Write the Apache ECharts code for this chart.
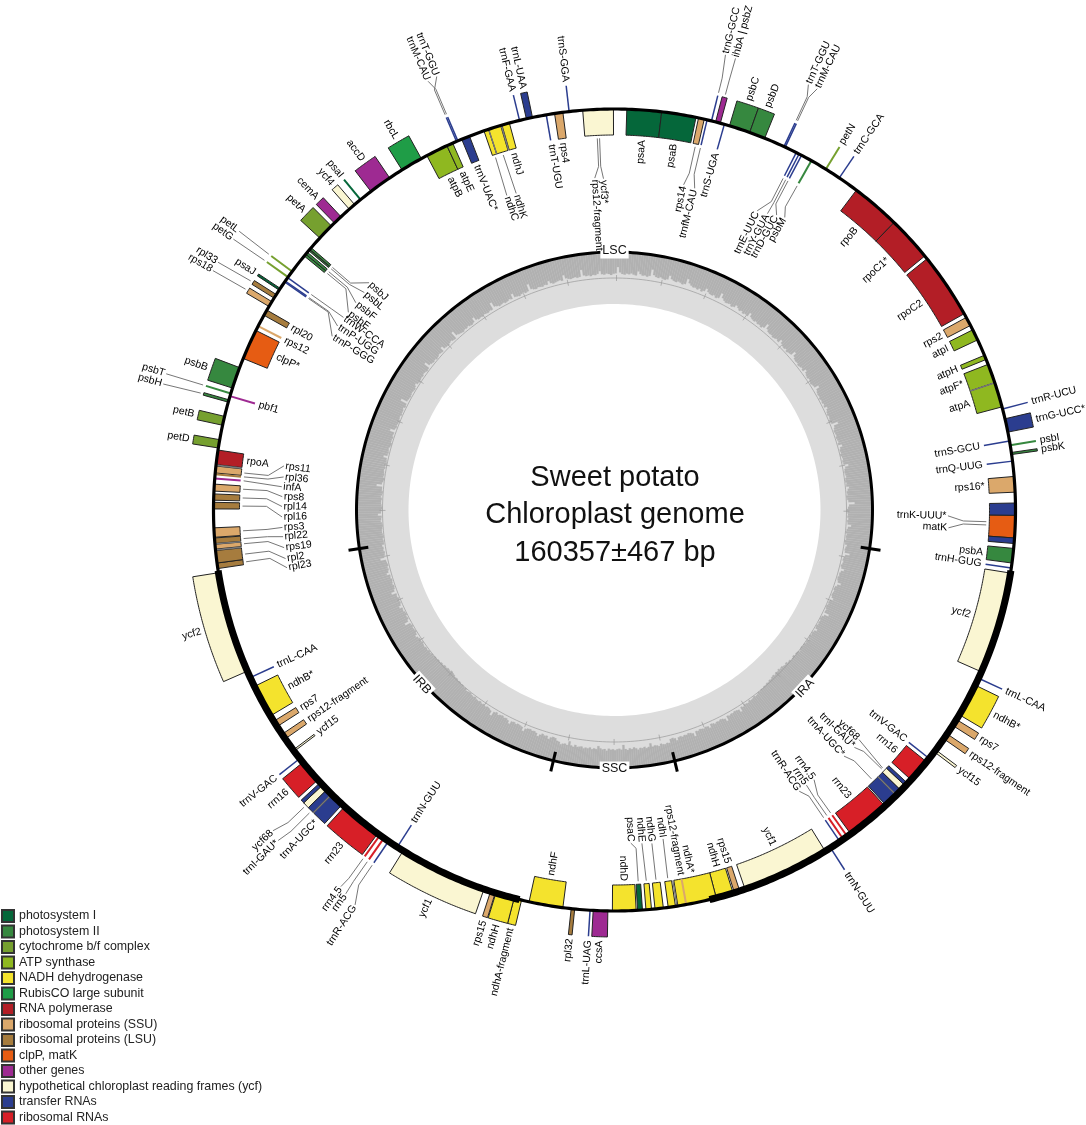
<!DOCTYPE html>
<html><head><meta charset="utf-8">
<style>html,body{margin:0;padding:0;background:#fff}#c{width:1086px;height:1125px}</style>
<script src="https://cdn.jsdelivr.net/npm/echarts@6/dist/echarts.min.js"></script>
</head><body><div id="c"></div>
<script>
// Genes: [name, start angle, end angle, side]  side 1 = outside of the circle, -1 = inside. Angles read clockwise from 12 o'clock.
const photosystemI = [['psaA',1.76,6.76,-1],['psaB',6.76,11.73,-1],['psaC',176,176.7,-1],['psaI',320.7,320.7,1],['psaJ',303.25,303.55,1]];
const photosystemII = [['psbC',16.66,19.7,1],['psbD',19.7,22,1],['psbM',29.4,29.4,-1],['psbI',80.7,80.7,1],['psbK',81.75,82.05,1],['psbA',95.5,97.6,-1],['psbT',286.9,286.9,1],['psbH',285.6,285.95,1],['psbB',287.7,290.8,1],['psbE',309.3,309.65,-1],['psbF',309.65,310,-1],['psbL',310.3,310.5,-1],['psbJ',310.55,310.85,-1]];
const cytochrome = [['petN',31.8,31.8,1],['petB',282.2,283.5,1],['petD',278.9,280.1,1],['petG',305.5,305.5,1],['petL',306.5,306.5,1],['petA',312.7,315.1,1]];
const atpSynthase = [['atpI',63.3,64.9,-1],['atpH',67.3,67.95,-1],['atpF*',68.7,71.5,-1],['atpA',71.5,75.1,-1],['atpB',332.1,335.3,-1],['atpE',335.3,336.2,-1]];
const nadh = [['ndhB*',115.9,120.7,1],['ndhH',162.8,165.3,-1],['ndhA*',165.3,170.9,-1],['ndhI',171.25,172.3,-1],['ndhG',173,174.2,-1],['ndhE',174.7,175.5,-1],['ndhD',176.9,180.3,-1],['ndhF',187.4,192.3,-1],['ndhA-fragment',193.4,194.5,1],['ndhH',194.5,197.2,1],['ndhB*',239.1,243.9,-1],['ndhC',341,341.7,-1],['ndhK',341.7,343.5,-1],['ndhJ',343.7,344.8,-1]];
const rubisco = [['rbcL',328,331.2,1]];
const rnaPolymerase = [['rpoB',37.1,44.2,-1],['rpoC1*',44.2,50.7,-1],['rpoC2',51.2,60.7,-1],['rpoA',276.5,278.6,-1]];
const ribosomalSSU = [['rps14',12.1,12.94,-1],['rps2',61.3,62.6,-1],['rps16*',85.2,87.45,-1],['rps7',121.5,122.5,1],['rps12-fragment',123.95,124.8,1],['rps15',161.8,162.6,-1],['rps12-fragment',169.7,169.7,-1],['rps15',197.3,198,1],['rps12-fragment',235.2,236,-1],['rps7',237.3,238.2,-1],['rps19',264.4,265.1,-1],['rps3',266.1,267.45,-1],['rps8',272.7,273.7,-1],['rps11',275.3,276.3,-1],['rps12',297.3,297.3,-1],['rps18',300.5,301.3,1],['rps4',351.4,352.6,-1],['rps12-fragment',357.35,357.35,-1]];
const ribosomalLSU = [['rpl32',185.7,186.2,1],['rpl23',261.6,262.4,-1],['rpl2',262.4,264.2,-1],['rpl22',265.2,266,-1],['rpl16',270.15,271.1,-1],['rpl14',271.4,272.3,-1],['rpl36',275.1,275.1,-1],['rpl20',299.05,299.9,-1],['rpl33',301.9,302.5,1]];
const clpMat = [['matK',90.76,94,-1],['clpP*',292.2,296.6,-1]];
const otherGenes = [['ihbA | psbZ',14.6,15.3,1],['ccsA',180.95,183.05,1],['infA',274.5,274.5,-1],['pbf1',286.5,286.5,-1],['cemA',315.7,317,1],['accD',322.6,325.9,1]];
const ycfGenes = [['ycf2',99.05,113.8,-1],['ycf15',126.75,127.1,1],['ycf68',133.5,134.4,-1],['ycf1',148.3,161,-1],['ycf1',199,211.8,1],['ycf15',233,233.25,-1],['ycf68',225.8,226.7,1],['ycf2',246.3,261,1],['ycf4',318.6,319.6,1],['ycf3*',355.45,359.85,-1]];
const transferRNA = [['trnfM-CAU',13.35,13.35,-1],['trnG-GCC',14,14,1],['trnS-UGA',15.9,15.9,-1],['trnT-GGU',25,25,1],['trnM-CAU',25.2,25.2,1],['trnE-UUC',26.95,26.95,-1],['trnY-GUA',27.4,27.4,-1],['trnD-GUC',27.8,27.8,-1],['trnC-GCA',34.1,34.1,1],['trnR-UCU',75.4,75.4,1],['trnG-UCC*',76.85,78.8,1],['trnS-GCU',80.1,80.1,-1],['trnQ-UUG',83,83,-1],['trnK-UUU*',89,90.76,-1],['',94,94.8,-1],['trnH-GUG',98.3,98.3,-1],['trnL-CAA',114.8,114.8,1],['trnV-GAC',128.3,128.3,-1],['',133,133.5,-1],['trnI-GAU*',134.4,135.3,-1],['trnA-UGC*',135.4,137.4,-1],['trnR-ACG',145.8,145.8,-1],['trnN-GUU',147.4,147.4,1],['trnL-UAG',183.5,183.5,1],['trnN-GUU',212.8,212.8,-1],['trnR-ACG',214.3,214.3,1],['trnA-UGC*',222.75,224.8,1],['trnI-GAU*',224.9,225.8,1],['',226.7,227.2,1],['trnV-GAC',231.7,231.7,1],['trnL-CAA',245.3,245.3,-1],['trnP-GGG',304.65,304.65,-1],['trnP-UGG',304.8,304.8,-1],['trnW-CCA',305.4,305.4,-1],['trnT-GGU',336.8,336.8,1],['trnM-CAU',337,337,1],['trnV-UAC*',337.6,338.8,-1],['trnF-GAA',346.3,346.3,1],['trnL-UAA',347.3,348.2,1],['trnT-UGU',350.2,350.2,-1],['trnS-GGA',353.5,353.5,1]];
const ribosomalRNA = [['rrn16',128.9,132.3,-1],['rrn23',137.6,143.9,-1],['rrn4.5',144.5,144.5,-1],['rrn5',145.2,145.2,-1],['rrn5',215.1,215.1,1],['rrn4.5',215.8,215.8,1],['rrn23',216.2,222.3,1],['rrn16',227.7,231,1]];

const groupNames = ['photosystem I','photosystem II','cytochrome b/f complex','ATP synthase','NADH dehydrogenase','RubisCO large subunit','RNA polymerase','ribosomal proteins (SSU)','ribosomal proteins (LSU)','clpP, matK','other genes','hypothetical chloroplast reading frames (ycf)','transfer RNAs','ribosomal RNAs'];
const groupGenes = [photosystemI,photosystemII,cytochrome,atpSynthase,nadh,rubisco,rnaPolymerase,ribosomalSSU,ribosomalLSU,clpMat,otherGenes,ycfGenes,transferRNA,ribosomalRNA];
const groupColors = ['#05673a','#36883f','#76a02f','#8fb820','#f4e32d','#1f9d47','#b31e26','#dba86b','#a67c3e','#e65c13','#9e2a92','#faf6d2','#2b3d8f','#d71f27'];

// GC content (%) along the inner ring, region by region, in half-degree bins
const gcLSC = [
48,48,47,49,48,47,47,48,49,48,46,47,48,41,47,48,49,48,47,47,48,46,48,49,47,47,36,46,48,49,47,48,47,46,48,47,49,48,47,40,
47,48,47,46,48,49,47,47,48,46,47,38,46,48,47,48,49,47,46,48,47,47,45,48,47,34,46,47,48,47,46,47,48,46,43,47,48,47,46,47,
45,46,48,47,35,44,46,47,46,48,47,45,46,47,39,45,46,47,45,44,46,47,33,43,45,46,47,45,46,44,46,47,45,37,44,46,45,46,44,45,
46,44,45,32,42,44,46,45,44,46,45,43,45,36,44,45,46,44,43,45,44,31,42,44,45,43,44,45,43,44,38,43,45,44,43,42,44,34,41,43,
44,43,42,44,43,30,41,43,42,44,42,43,41,36,42,43,41,42,44,42,41,29,39,42,43,41,42,40,42,43,35,40,42,41,43,41,28,38,41,42,
40,42,43,41,33,39,41,42,40,41,43,41,30,37,40,42,41,43,40,44,41,35,40,42,43,41,44,42,31,39,42,44,43,42,45,43,38,41,44,42,
45,43,44,36,42,44,45,43,45,44,46,43,33,41,44,45,44,46,45,43,45,38,43,45,46,44,47,45,44,35,42,45,46,45,47,46,44,46,40,44,
46,47,45,46,48,46,45,37,44,46,47,46,48,46,47,45,47,42,45,47,48,46,47,49,47,35,44,46,48,47,46,48,47,46,48,41,46,48,47,49,
47,46,48,47,38,45,47,48,47,46,48,49,47,48,43,46,48,47,49,48,46,34,45,47,49,48,47,48,46,48,47,40,46,48,49,47,48,47,49,48];
const gcIRA = [
44,46,47,46,36,44,46,47,45,46,48,46,40,45,47,46,48,47,45,38,44,47,48,46,47,48,46,42,47,48,47,49,48,46,47,37,45,48,49,47,
48,47,49,48,43,47,49,48,50,49,47,49,48,50,49,51,50,48,51,52,50,53,51,50,53,52,55,53,54,56,55,57,55,56,54,56,55,53,54,52,
53,51,52,50,51,49,50,48,47,49,47,46,48,45,46,47,44,46,38,44,45,46,44,45,43,45,36,42,44,45,43,44,42,44,45,39,43,44,42,43,
44,42,43,34,41,43,44,42,43,41,43,42,37,42,44,43];
const gcSSC = [36,37,35,36,38,34,36,37,35,42,36,34,37,35,36,33,36,38,35,37,34,36,44,35,37,36,34,36,35,37,33,36,35,37,41,35,36,34,37,35,36,34,37,36,35,38,34,36,43,35,37,36,34,38];
const gcIRB = [
39,43,44,42,38,43,42,44,41,37,42,44,43,45,44,42,36,43,44,45,43,45,44,38,43,45,44,46,45,43,46,44,35,43,45,46,44,46,45,47,
45,46,48,46,47,49,48,47,50,49,51,50,52,51,53,52,54,55,56,54,55,53,54,52,53,51,52,50,51,49,50,48,49,47,48,46,47,49,47,48,
46,43,47,49,48,47,49,47,37,45,48,47,49,48,46,47,42,46,48,47,48,46,47,38,45,47,48,46,47,48,46,47,41,45,47,46,48,47,46,36,44,46,47,45,46,44];
const gcRegions = [[261.5,458.5,gcLSC],[98.5,166.5,gcIRA],[166.5,193.7,gcSSC],[193.7,261.5,gcIRB]];
const gcTicks = [0.5,11.7,22.9,34.1,45.4,56.6,67.8,79,90.3,101.5,112.7,123.9,135.2,146.4,157.6,168.8,180.1,191.3,202.5,213.7,225,236.2,247.4,258.6,269.9,281.1,292.3,303.5,314.8,326,337.2,348.4];

const repeatArcs = [[98.7,166.3],[193.7,261.3]];
const boundaryTicks = [98.6,166.5,193.7,261.4];
const regionLabels = [['LSC',0,259],['IRA',133.1,261],['SSC',180,259],['IRB',227.8,260]];
const titleLines = ['Sweet potato','Chloroplast genome','160357±467 bp'];

// Leader-line label placement: key -> [label angle, label radius, elbow radius or 0, anchor angle or 0]. "|L" = left half of the circle.
const leaders = {
 'trnG-GCC':[13.7,470,445],'ihbA | psbZ':[15,469,445],'rps14':[12,331,345],'trnfM-CAU':[14,330,345],
 'trnT-GGU':[24.5,469,456],'trnM-CAU':[25.7,469,456],'trnE-UUC':[25.5,330,346],'trnY-GUA':[27.3,332,346],'trnD-GUC':[28.8,335,346],'psbM':[30.2,337,348],
 'trnK-UUU*':[91,332,349,91.8],'matK':[93.05,333,349,92.3],
 'ycf68':[133.2,334,0,133.9],'trnI-GAU*':[134.7,336,347,134.1],'trnA-UGC*':[137,335,347,136.3],
 'rrn4.5':[143.5,334,350],'rrn5':[145.1,334,350],'trnR-ACG':[146.7,335,346],
 'ndhI':[171.6,331,0],'ndhG':[173.6,334,0],'ndhE':[175.3,333,0],'psaC':[177.2,332,339],
 'trnR-ACG|L':[213.3,474,454],'rrn5|L':[215,470,454],'rrn4.5|L':[216,467,454],
 'ycf68|L':[226.8,470,452],'trnI-GAU*|L':[225.5,473,456,225.2],
 'rpl23|L':[260,331,348,262],'rpl2|L':[261.6,331,348,263.2],'rps19|L':[263.5,331,348,264.8],'rpl22|L':[265.4,331,348,265.6],'rps3|L':[267,331,348,266.8],
 'rpl16|L':[268.8,331,348,270.6],'rpl14|L':[270.6,331,348,271.85],'rps8|L':[272.3,331,348,273.2],'infA|L':[274,332,0],'rpl36|L':[275.7,331,348,275.1],'rps11|L':[277.6,332,348,275.7],
 'psbH|L':[285.6,470,0],'psbT|L':[286.9,470,0],'rps18|L':[300.8,469,0],'rpl33|L':[302,469,0],'petG|L':[305.4,469,0],'petL|L':[306.6,469,0],
 'trnP-GGG|L':[301.6,330,348],'trnP-UGG|L':[303.6,331,348],'trnW-CCA|L':[305.4,331,347],'psbE|L':[306.6,330,348],'psbF|L':[308.7,330,348],'psbL|L':[311,330,348],'psbJ|L':[312.8,333,348],
 'trnM-CAU|L':[336.5,469,457],'trnT-GGU|L':[337.7,470,457],'ndhC|L':[341.1,331,0],'ndhK|L':[342.75,330,0],'rps12-fragment|L':[356.6,331,344],'ycf3*|L':[358.1,330,344,357.7]
};
const dividers = [[71.5,-1],[135.35,-1],[171.05,-1],[224.85,1],[265.15,-1],[276.4,-1],[341.7,-1],[343.6,-1],[264.3,-1]];

const CX=614.5, CY=510, RING=401, OUT=427, IN=375;
const FONT='"Liberation Sans",Arial,sans-serif';
function arc(api,r,a0,a1,step){const p=[],n=Math.max(1,Math.ceil(Math.abs(a1-a0)/(step||0.5)));for(let i=0;i<=n;i++)p.push(api.coord([r,a0+(a1-a0)*i/n]));return p;}
function norm(a){return ((a%360)+360)%360;}
function labelEl(api,text,a,r,isOut){
  const t=norm(a),right=t<180,pos=api.coord([r,t]);
  const deg=right?90-t:270-t;
  const align=(right===isOut)?'left':'right';
  return {type:'text',x:pos[0],y:pos[1],rotation:deg*Math.PI/180,silent:true,
    style:{text:text,fontSize:10.5,fontFamily:FONT,fill:'#000',align:align,verticalAlign:'middle'}};
}
function geneRender(list,color){
  return function(params,api){
    const g=list[params.dataIndex],name=g[0],a0=g[1],a1=g[2],side=g[3];
    const rEnd=side>0?OUT:IN,children=[];
    if(a1-a0<0.01){
      children.push({type:'polyline',shape:{points:[api.coord([RING,a0]),api.coord([rEnd,a0])]},style:{stroke:color,lineWidth:color==='#2b3d8f'?1.5:2,fill:null}});
    }else{
      children.push({type:'polygon',shape:{points:arc(api,RING,a0,a1,0.25).concat(arc(api,rEnd,a1,a0,0.25))},style:{fill:color,stroke:'#222',lineWidth:1}});
    }
    if(name){
      const key=name+(a0<180?'':'|L'),mid=(a0+a1)/2;
      let l=leaders[key];
      if(l&&Math.abs(l[0]-mid)>8)l=null;
      if(l){
        const anchor=l[3]||mid,pts=[api.coord([rEnd+side*3,anchor])];
        if(l[2])pts.push(api.coord([l[2],anchor]));
        pts.push(api.coord([l[1]-side*1.5,l[0]]));
        children.push({type:'polyline',shape:{points:pts},style:{stroke:'#666',lineWidth:0.9,fill:null}});
        children.push(labelEl(api,name,l[0],l[1],side>0));
      }else{
        children.push(labelEl(api,name,mid,rEnd+side*4,side>0));
      }
    }
    return {type:'group',children:children};
  };
}
const series=[];
series.push({type:'custom',coordinateSystem:'polar',silent:true,clip:false,z:1,data:[[0,0]],
  renderItem:(p,api)=>({type:'polygon',shape:{points:arc(api,232,0,360,1)},style:{fill:null,stroke:'#dddddd',lineWidth:52}})});
const gcBins=[];
gcRegions.forEach(reg=>{const w=(reg[1]-reg[0])/reg[2].length;reg[2].forEach((v,i)=>gcBins.push([v,reg[0]+i*w,w]));});
series.push({type:'custom',coordinateSystem:'polar',silent:true,clip:false,z:2,data:gcBins,
  renderItem:(p,api)=>{const b=gcBins[p.dataIndex],rIn=258-52*b[0]/100;
    return {type:'polygon',shape:{points:[api.coord([258,b[1]]),api.coord([258,b[1]+b[2]]),api.coord([rIn,b[1]+b[2]]),api.coord([rIn,b[1]])]},style:{fill:'#b1b1b1',stroke:'#b1b1b1',lineWidth:0.2}};}});
series.push({type:'custom',coordinateSystem:'polar',silent:true,clip:false,z:3,data:[[0,0]],
  renderItem:(p,api)=>{const c=[{type:'polygon',shape:{points:arc(api,232,0,360,1)},style:{fill:null,stroke:'#9a9a9a',lineWidth:0.7}}];
    gcTicks.forEach(t=>c.push({type:'polyline',shape:{points:[api.coord([229,t]),api.coord([235,t])]},style:{stroke:'#9a9a9a',lineWidth:0.7,fill:null}}));
    c.push({type:'polygon',shape:{points:arc(api,258,0,360,1)},style:{fill:null,stroke:'#000',lineWidth:3}});
    boundaryTicks.forEach(t=>c.push({type:'polyline',shape:{points:[api.coord([249,t]),api.coord([269,t])]},style:{stroke:'#000',lineWidth:3,fill:null}}));
    regionLabels.forEach(l=>{const q=api.coord([l[2],l[1]]);const rot=(l[1]>90&&l[1]<270)?180-l[1]:-l[1];
      c.push({type:'text',x:q[0],y:q[1],rotation:rot*Math.PI/180,style:{text:l[0],fontSize:12.5,fontFamily:FONT,fill:'#111',align:'center',verticalAlign:'middle',backgroundColor:'#fff',padding:[1,2]}});});
    return {type:'group',children:c};}});
groupNames.forEach((n,i)=>{
  series.push({name:n,type:'custom',coordinateSystem:'polar',silent:true,clip:false,z:5,
    itemStyle:{color:groupColors[i],borderColor:'#333',borderWidth:1},
    data:groupGenes[i].map(g=>[g[1],g[2]]),renderItem:geneRender(groupGenes[i],groupColors[i])});
});
series.push({type:'custom',coordinateSystem:'polar',silent:true,clip:false,z:6,data:dividers,
  renderItem:(p,api)=>{const d=dividers[p.dataIndex];return {type:'polyline',shape:{points:[api.coord([RING,d[0]]),api.coord([d[1]>0?OUT:IN,d[0]])]},style:{stroke:'#777',lineWidth:1.4,fill:null}};}});
series.push({type:'custom',coordinateSystem:'polar',silent:true,clip:false,z:7,data:[[0,0]],
  renderItem:(p,api)=>{const c=[{type:'polygon',shape:{points:arc(api,RING,0,360,0.5)},style:{fill:null,stroke:'#000',lineWidth:3.2}}];
    repeatArcs.forEach(r=>c.push({type:'polyline',shape:{points:arc(api,RING,r[0],r[1],0.5)},style:{stroke:'#000',lineWidth:7,fill:null}}));
    return {type:'group',children:c};}});

const chart=echarts.init(document.getElementById('c'),null,{renderer:'canvas',width:1086,height:1125});
chart.setOption({
  animation:false,backgroundColor:'#fff',
  title:{text:titleLines.join('\n'),left:610,top:454,textAlign:'center',textStyle:{fontFamily:FONT,fontSize:29,fontWeight:'normal',color:'#111',lineHeight:37.5}},
  polar:{center:[CX,CY],radius:480},
  radiusAxis:{min:0,max:480,show:false},
  angleAxis:{min:0,max:360,startAngle:90,clockwise:true,show:false},
  legend:{data:groupNames,orient:'vertical',left:1,top:909,height:400,padding:0,itemWidth:12,itemHeight:12,itemGap:1.5,icon:'rect',selectedMode:false,
    textStyle:{fontFamily:FONT,fontSize:12.4,color:'#222',lineHeight:14}},
  series:series
});
</script></body></html>
